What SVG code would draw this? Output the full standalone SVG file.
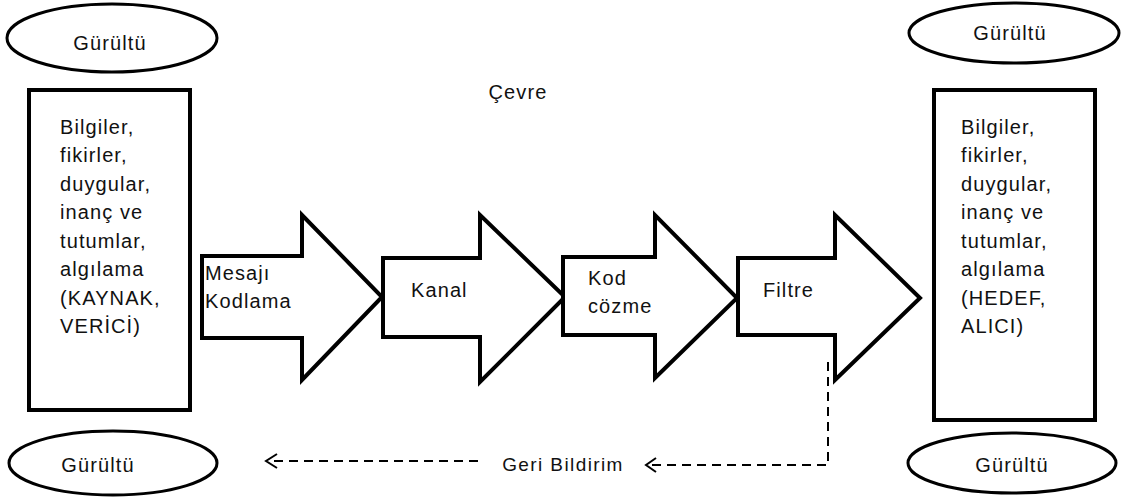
<svg xmlns="http://www.w3.org/2000/svg" width="1121" height="500" viewBox="0 0 1121 500">
  <style>
    .shape { fill: #ffffff; stroke: #000000; stroke-width: 4; stroke-linejoin: miter; }
    .oval { fill: #ffffff; stroke: #000000; stroke-width: 3; }
    .txt { font-family: "Liberation Sans", Arial, sans-serif; font-size: 20px; fill: #111111; letter-spacing: 1.1px; }
    .mid { text-anchor: middle; }
    .fb { fill: none; stroke: #000000; stroke-width: 2; stroke-dasharray: 9 6; }
    .fbhead { fill: none; stroke: #000000; stroke-width: 2; }
    .small { font-family: "Liberation Sans", Arial, sans-serif; font-size: 19px; fill: #111111; letter-spacing: 1.4px; }
  </style>

  <rect width="1121" height="500" fill="#ffffff"/>

  <!-- noise ovals -->
  <g id="noise-top-left">
    <ellipse class="oval" cx="112" cy="38" rx="105" ry="34"/>
    <text class="txt mid" x="110" y="50">Gürültü</text>
  </g>
  <g id="noise-bottom-left">
    <ellipse class="oval" cx="113" cy="463" rx="104" ry="32"/>
    <text class="txt mid" x="98" y="472">Gürültü</text>
  </g>
  <g id="noise-top-right">
    <ellipse class="oval" cx="1014" cy="33" rx="105" ry="30"/>
    <text class="txt mid" x="1010" y="40">Gürültü</text>
  </g>
  <g id="noise-bottom-right">
    <ellipse class="oval" cx="1012" cy="463" rx="104" ry="30"/>
    <text class="txt mid" x="1012" y="472">Gürültü</text>
  </g>

  <!-- environment label -->
  <g id="environment">
    <text class="txt mid" x="518" y="99">Çevre</text>
  </g>

  <!-- source box -->
  <g id="source">
    <rect class="shape" x="29" y="90" width="161" height="320"/>
    <text class="txt" x="60">
      <tspan x="60" y="134">Bilgiler,</tspan>
      <tspan x="60" y="162">fikirler,</tspan>
      <tspan x="60" y="191">duygular,</tspan>
      <tspan x="60" y="219">inanç ve</tspan>
      <tspan x="60" y="248">tutumlar,</tspan>
      <tspan x="60" y="276">algılama</tspan>
      <tspan x="60" y="305">(KAYNAK,</tspan>
      <tspan x="60" y="333">VERİCİ)</tspan>
    </text>
  </g>

  <!-- receiver box -->
  <g id="receiver">
    <rect class="shape" x="934" y="90" width="161" height="330"/>
    <text class="txt" x="961">
      <tspan x="961" y="134">Bilgiler,</tspan>
      <tspan x="961" y="162">fikirler,</tspan>
      <tspan x="961" y="191">duygular,</tspan>
      <tspan x="961" y="219">inanç ve</tspan>
      <tspan x="961" y="248">tutumlar,</tspan>
      <tspan x="961" y="276">algılama</tspan>
      <tspan x="961" y="305">(HEDEF,</tspan>
      <tspan x="961" y="333">ALICI)</tspan>
    </text>
  </g>

  <!-- process arrows -->
  <g id="encoding">
    <polygon class="shape" points="202,256 302,256 302,215 382,297 302,380 302,338 202,338"/>
    <text class="txt" x="205">
      <tspan x="205" y="280">Mesajı</tspan>
      <tspan x="205" y="308">Kodlama</tspan>
    </text>
  </g>
  <g id="channel">
    <polygon class="shape" points="383,258 480,258 480,215 565,297 480,382 480,337 383,337"/>
    <text class="txt" x="411" y="297">Kanal</text>
  </g>
  <g id="decoding">
    <polygon class="shape" points="563,257 655,257 655,215 737,298 655,378 655,335 563,335"/>
    <text class="txt" x="588">
      <tspan x="588" y="285">Kod</tspan>
      <tspan x="588" y="313">cözme</tspan>
    </text>
  </g>
  <g id="filter">
    <polygon class="shape" points="738,258 835,258 835,215 920,298 835,380 835,335 738,335"/>
    <text class="txt" x="763" y="297">Filtre</text>
  </g>

  <!-- feedback connectors -->
  <g id="connectors">
    <polyline class="fb" points="828,362 828,465 648,465"/>
    <polyline class="fbhead" points="656,458 646,465 656,472"/>
    <line class="fb" x1="478" y1="461" x2="268" y2="461"/>
    <polyline class="fbhead" points="277,454 266,461 277,468"/>
  </g>
  <g id="feedback-label">
    <text class="small mid" x="563" y="471">Geri Bildirim</text>
  </g>
</svg>
